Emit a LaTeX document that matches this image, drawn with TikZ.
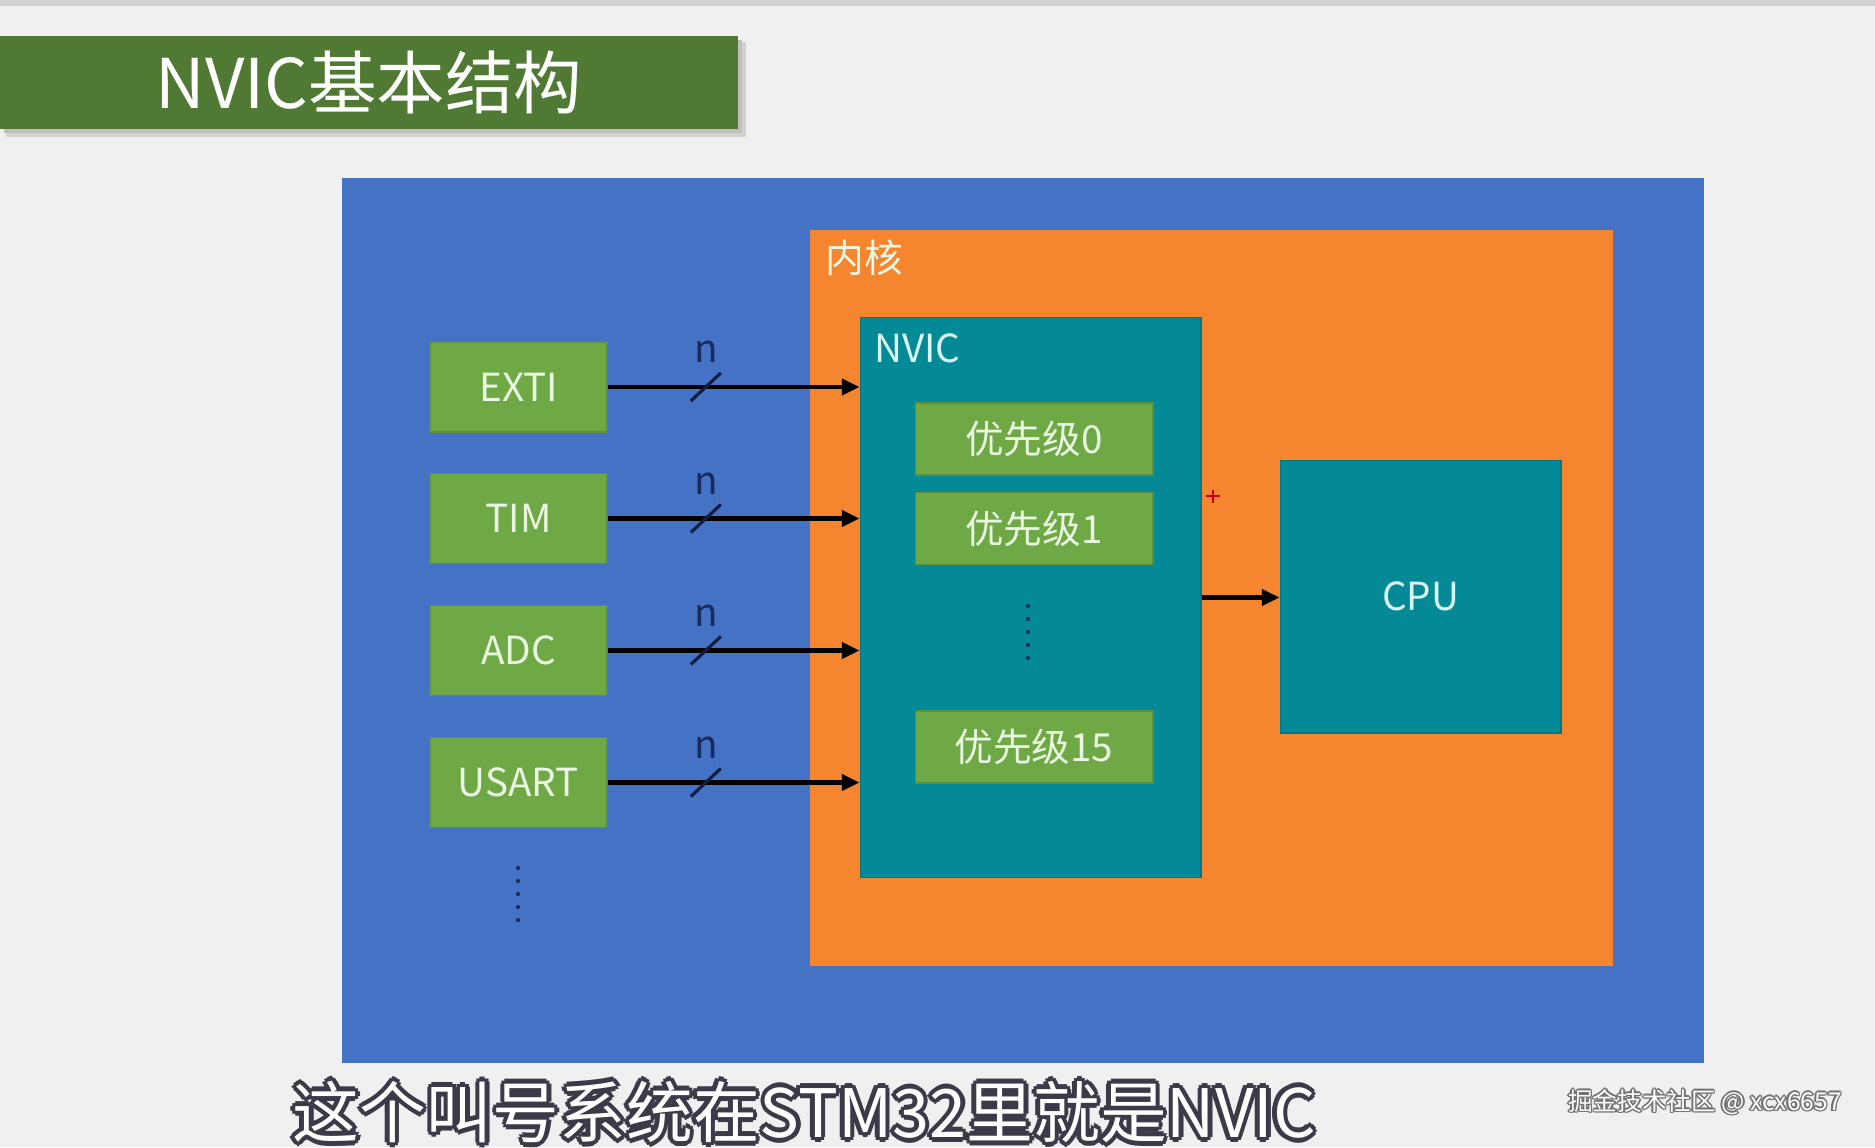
\documentclass[tikz,border=0pt]{standalone}
\usepackage{fontspec}
\setmainfont{Noto Sans CJK SC}
\usetikzlibrary{arrows.meta}

\definecolor{bggray}{HTML}{F0F0F0}
\definecolor{topgray}{HTML}{D2D2D2}
\definecolor{titlegreen}{HTML}{507A34}
\definecolor{chipblue}{HTML}{4472C4}
\definecolor{coreorange}{HTML}{F5862F}
\definecolor{nvicteal}{HTML}{048A96}
\definecolor{boxgreen}{HTML}{6FA945}
\definecolor{lighttext}{HTML}{EAF7E2}
\definecolor{cputext}{HTML}{D8F6F6}
\definecolor{navy}{HTML}{1B2A5C}
\definecolor{subdark}{HTML}{3A3A48}

% text with a dark halo, drawn in one box
\newcommand\halotext[3]{%
  \rlap{\hspace*{-#2}\textcolor{#1}{#3}}%
  \rlap{\hspace*{#2}\textcolor{#1}{#3}}%
  \rlap{\raisebox{#2}{\textcolor{#1}{#3}}}%
  \rlap{\raisebox{-#2}{\textcolor{#1}{#3}}}%
  \rlap{\hspace*{-0.7\dimexpr#2\relax}\raisebox{0.7\dimexpr#2\relax}{\textcolor{#1}{#3}}}%
  \rlap{\hspace*{0.7\dimexpr#2\relax}\raisebox{0.7\dimexpr#2\relax}{\textcolor{#1}{#3}}}%
  \rlap{\hspace*{-0.7\dimexpr#2\relax}\raisebox{-0.7\dimexpr#2\relax}{\textcolor{#1}{#3}}}%
  \rlap{\hspace*{0.7\dimexpr#2\relax}\raisebox{-0.7\dimexpr#2\relax}{\textcolor{#1}{#3}}}%
  #3}

\tikzset{
  block/.style={inner sep=0pt, text=lighttext, font=\fontsize{22}{26}\selectfont},
  srcbox/.style={block, fill=boxgreen, draw=boxgreen!85!black, line width=0.6pt,
    minimum width=3.54cm, minimum height=1.8cm},
  prio/.style={block, fill=boxgreen, draw=boxgreen!85!black, line width=0.6pt,
    minimum width=4.76cm, minimum height=1.44cm},
  tealbox/.style={block, fill=nvicteal, draw=nvicteal!85!black, line width=0.6pt},
  sig/.style={line width=2.8pt, -{Triangle[length=10pt,width=9pt]}},
  slash/.style={line width=1.8pt, navy!70!black},
  vdots/.style={navy, line width=2.4pt, line cap=round, dash pattern=on 0pt off 7.4pt},
  ntext/.style={inner sep=0pt, text=navy, font=\fontsize{22}{26}\selectfont},
  subtxt/.style={inner sep=0pt, text=white, font=\fontsize{38}{40}\selectfont},
  marktxt/.style={inner sep=0pt, text=white, font=\fontsize{14}{16}\selectfont}
}

\begin{document}
\begin{tikzpicture}[x=0.02cm, y=-0.02cm]
  \useasboundingbox (0,0) rectangle (1875,1147);
  \clip (0,0) rectangle (1875,1147);
  \fill[bggray] (0,0) rectangle (1875,1147);
  \fill[topgray] (0,0) rectangle (1875,6);

  % Titel
  \fill[black!18] (6,42) rectangle (746,137);
  \fill[black!25] (4,40) rectangle (742,133);
  \node[inner sep=0pt, fill=titlegreen, minimum width=14.76cm, minimum height=1.86cm,
    text=white, font=\fontsize{39}{42}\selectfont] (title) at (369,82.5) {NVIC基本结构};

  % Chip und Kern
  \node[fill=chipblue, inner sep=0pt, minimum width=27.24cm, minimum height=17.7cm] (chip) at (1023,620.5) {};
  \node[fill=coreorange, inner sep=0pt, minimum width=16.06cm, minimum height=14.72cm] (core) at (1211.5,598) {};
  \node[block, anchor=west] (corelbl) at (825,258) {内核};

  \node[tealbox, minimum width=6.82cm, minimum height=11.22cm] (nvic) at (1030.5,597.5) {};
  \node[block, text=cputext, anchor=west] (nviclbl) at (874,348) {NVIC};
  \node[prio] (p0) at (1034,439) {优先级0};
  \node[prio] (p1) at (1034,528.5) {优先级1};
  \node[prio] (p15) at (1034,747) {优先级15};
  \draw[vdots] (1028,606) -- (1028,670);

  \node[tealbox, text=cputext, minimum width=5.62cm, minimum height=5.46cm] (cpu) at (1420.5,596.5) {CPU};
  \draw[sig] (nvic.east) -- (nvic.east -| cpu.west);
  \draw[red!80!black, line width=0.8pt] (1213,490) -- (1213,503) (1206,496) -- (1220,496);

  % Peripherie
  \foreach \name/\txt/\yy in {exti/EXTI/387, tim/TIM/518.5, adc/ADC/650.5, usart/USART/782.5} {
    \node[srcbox] (\name) at (518.5,\yy) {\txt};
    \draw[sig] (\name.east) -- (\name.east -| nvic.west) coordinate[pos=0.39] (m\name);
    \draw[slash] (m\name) ++(-15,14) -- ++(30,-28);
    \node[ntext, yshift=20pt] (n\name) at (m\name) {n};
  }
  \draw[vdots] (518,868) -- (518,932);

  % Untertitel
  \node[subtxt] (sub) at (804,1112) {\halotext{subdark}{2.6pt}{这个叫号系统在STM32里就是NVIC}};
  \node[marktxt] (mark) at (1705,1102) {\halotext{black!55}{0.9pt}{掘金技术社区 @ xcx6657}};
\end{tikzpicture}
\end{document}
